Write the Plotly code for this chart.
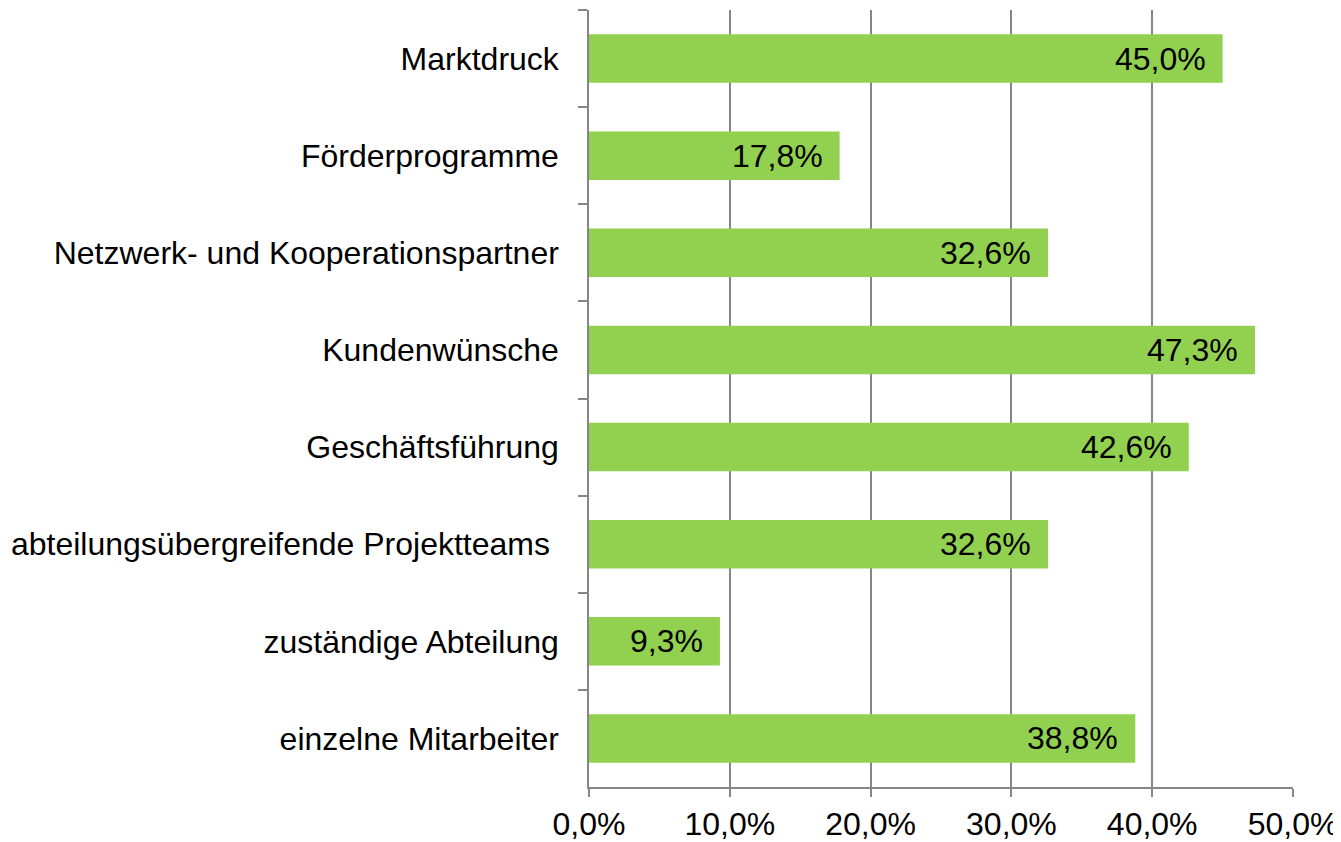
import plotly.graph_objects as go

categories = [
    "Marktdruck",
    "Förderprogramme",
    "Netzwerk- und Kooperationspartner",
    "Kundenwünsche",
    "Geschäftsführung",
    "abteilungsübergreifende Projektteams ",
    "zuständige Abteilung",
    "einzelne Mitarbeiter",
]
values = [45.0, 17.8, 32.6, 47.3, 42.6, 32.6, 9.3, 38.8]
x_ticks = [0, 10, 20, 30, 40, 50]

FONT = "Liberation Sans, Arial, sans-serif"
GRID = "#868686"
FS = 32


def pct(v):
    return f"{v:.1f}%".replace(".", ",")


fig = go.Figure(
    go.Bar(
        y=categories,
        x=values,
        orientation="h",
        marker=dict(color="#92D050", line=dict(width=0)),
        hoverinfo="x+y",
    )
)

for cat, v in zip(categories, values):
    fig.add_annotation(
        x=v,
        y=cat,
        xref="x",
        yref="y",
        text=pct(v),
        showarrow=False,
        xanchor="right",
        yanchor="middle",
        xshift=-15,
        font=dict(family=FONT, size=FS, color="black"),
    )

fig.update_layout(
    width=1333,
    height=834,
    margin=dict(l=581, r=48, t=2, b=55),
    plot_bgcolor="white",
    paper_bgcolor="white",
    bargap=0.5,
    showlegend=False,
    font=dict(family=FONT, size=FS, color="black"),
)

fig.update_xaxes(
    range=[0, 50],
    tickmode="array",
    tickvals=x_ticks,
    ticktext=[pct(t) for t in x_ticks],
    showgrid=True,
    gridcolor=GRID,
    gridwidth=1.5,
    showline=True,
    linecolor=GRID,
    linewidth=1.5,
    ticks="outside",
    ticklen=8,
    tickcolor=GRID,
    tickwidth=1.5,
    zeroline=False,
    tickfont=dict(family=FONT, size=FS, color="black"),
    ticklabelstandoff=0,
    automargin=False,
)

fig.update_yaxes(
    autorange="reversed",
    showline=True,
    linecolor=GRID,
    linewidth=1.5,
    ticks="outside",
    tickson="boundaries",
    ticklen=9,
    tickcolor=GRID,
    tickwidth=1.5,
    showgrid=False,
    tickfont=dict(family=FONT, size=FS, color="black"),
    ticklabelstandoff=22,
    automargin=False,
)

fig.write_html("out.html")
